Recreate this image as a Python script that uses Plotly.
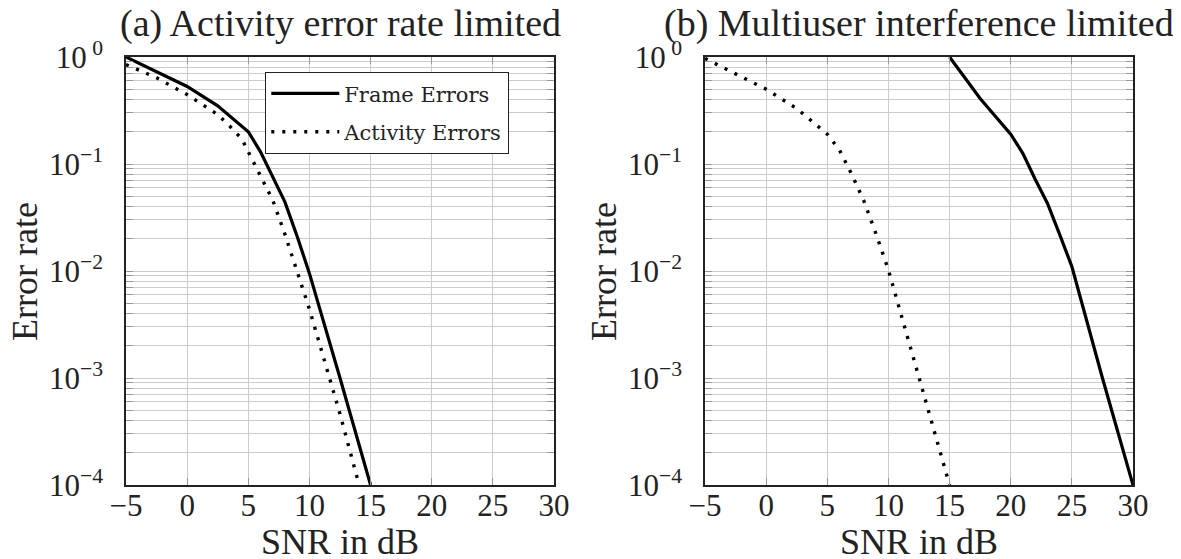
import plotly.graph_objects as go

# ---- data ----
snr_frame_a = [-5, -2.5, 0, 2.5, 5, 6, 7, 8, 9, 10, 12.5, 15]
err_frame_a = [1.0, 0.73, 0.53, 0.35, 0.2, 0.13, 0.077, 0.044, 0.021, 0.0095, 0.001, 1e-4]

snr_act_a = [-5, -2.5, 0, 2.5, 3.5, 4.5, 5, 6, 7, 8, 9, 10, 12.5, 15]
err_act_a = [0.85, 0.64, 0.445, 0.29, 0.225, 0.17, 0.13, 0.078, 0.046, 0.022, 0.0098, 0.0044, 0.00046, 4e-5]

snr_frame_b = [15, 17.5, 20, 21, 22, 23, 24, 25, 27.5, 30]
err_frame_b = [1.0, 0.41, 0.19, 0.125, 0.072, 0.043, 0.022, 0.011, 0.001, 1e-4]

snr_act_b = [-5, -2.5, 0, 2.5, 5, 6, 7, 8, 9, 10, 12.5, 15]
err_act_b = [0.97, 0.7, 0.5, 0.33, 0.19, 0.135, 0.08, 0.045, 0.022, 0.0102, 0.001, 1e-4]

x_ticks = [-5, 0, 5, 10, 15, 20, 25, 30]
x_ticktext = ["−5", "0", "5", "10", "15", "20", "25", "30"]
decades = [0, -1, -2, -3, -4]
decade_labels = ["10<sup> 0</sup>", "10<sup>−1</sup>", "10<sup>−2</sup>", "10<sup>−3</sup>", "10<sup>−4</sup>"]
titles = ["(a) Activity error rate limited", "(b) Multiuser interference limited"]
x_title = "SNR in dB"
y_title = "Error rate"
legend_names = ["Frame Errors", "Activity Errors"]

# ---- y ticks: labelled decades + unlabelled minor grid values ----
y_tickvals, y_ticktext = [], []
for d, lab in zip(decades, decade_labels):
    y_tickvals.append(10.0 ** d)
    y_ticktext.append(lab)
for d in [-1, -2, -3, -4]:
    for m in range(2, 10):
        y_tickvals.append(m * 10.0 ** d)
        y_ticktext.append("")

FONT = "Liberation Serif"
LFONT = "DejaVu Serif"
OFF = 8                      # page body margin
W, H = 1181 - OFF, 559 - OFF


def px(x):
    return (x - OFF) / W


def py(y):
    return 1 - (y - OFF) / H


solid = dict(color="black", width=3.2)
dotted = dict(color="black", width=3.4, dash="3px,8px")

fig = go.Figure()
fig.add_trace(go.Scatter(x=snr_frame_a, y=err_frame_a, mode="lines", name=legend_names[0],
                         legendgroup="f", line=solid, xaxis="x", yaxis="y"))
fig.add_trace(go.Scatter(x=snr_act_a, y=err_act_a, mode="lines", name=legend_names[1],
                         legendgroup="a", line=dotted, xaxis="x", yaxis="y"))
fig.add_trace(go.Scatter(x=snr_frame_b, y=err_frame_b, mode="lines", showlegend=False,
                         line=solid, xaxis="x2", yaxis="y2"))
fig.add_trace(go.Scatter(x=snr_act_b, y=err_act_b, mode="lines", showlegend=False,
                         line=dotted, xaxis="x2", yaxis="y2"))

ydom = [py(485), py(57)]
xdom1 = [px(126), px(554)]
xdom2 = [px(705), px(1133)]

common_x = dict(range=[-5, 30], tickvals=x_ticks, ticktext=x_ticktext, showgrid=True,
                gridcolor="#cccccc", gridwidth=1, ticks="inside", ticklen=7, tickcolor="#999",
                mirror="allticks", showline=True, linecolor="#222", linewidth=1.6, zeroline=False,
                tickfont=dict(family=FONT, size=31, color="#222"), ticklabelstandoff=-8,
                automargin=False)
common_y = dict(type="log", range=[-4, 0], tickvals=y_tickvals, ticktext=y_ticktext, showgrid=True,
                gridcolor="#cccccc", gridwidth=1, ticks="inside", ticklen=7, tickcolor="#999",
                mirror="allticks", showline=True, linecolor="#222", linewidth=1.6, zeroline=False,
                tickfont=dict(family=FONT, size=31, color="#222"), ticklabelstandoff=15,
                automargin=False)

fig.update_layout(
    width=W, height=H, margin=dict(l=0, r=0, t=0, b=0, autoexpand=False),
    paper_bgcolor="white", plot_bgcolor="white",
    xaxis=dict(domain=xdom1, anchor="y", **common_x),
    yaxis=dict(domain=ydom, anchor="x", **common_y),
    xaxis2=dict(domain=xdom2, anchor="y2", **common_x),
    yaxis2=dict(domain=ydom, anchor="x2", **common_y),
    showlegend=True,
    legend=dict(x=px(265), y=py(72), xanchor="left", yanchor="top",
                bordercolor="#222", borderwidth=1.3, bgcolor="white",
                font=dict(family=LFONT, size=21, color="#222"), itemwidth=68,
                tracegroupgap=8),
)

ann = []
for t, cx in zip(titles, [340, 919]):
    ann.append(dict(text=t, x=px(cx), y=py(23), xref="paper", yref="paper", showarrow=False,
                    xanchor="center", yanchor="middle", font=dict(family=FONT, size=38, color="#222")))
for cx in [340, 919]:
    ann.append(dict(text=x_title, x=px(cx), y=py(542), xref="paper", yref="paper", showarrow=False,
                    xanchor="center", yanchor="middle", font=dict(family=FONT, size=36, color="#222")))
for cx in [25, 604]:
    ann.append(dict(text=y_title, x=px(cx), y=py(272), xref="paper", yref="paper", showarrow=False,
                    textangle=-90, xanchor="center", yanchor="middle",
                    font=dict(family=FONT, size=36, color="#222")))
fig.update_layout(annotations=ann)

fig.write_html("out.html")
